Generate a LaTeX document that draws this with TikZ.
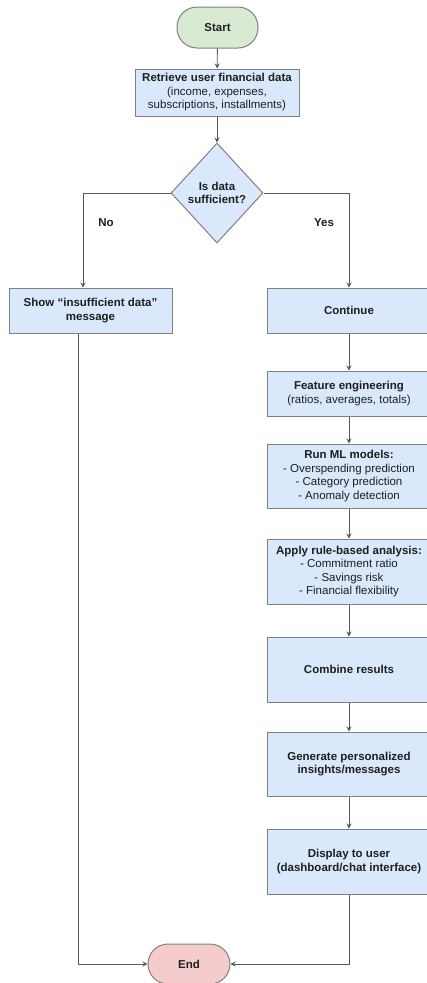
\documentclass[tikz,border=0pt]{standalone}
\usepackage{fontspec}
\setmainfont{Liberation Sans}
\usetikzlibrary{shapes.geometric,arrows.meta}
\definecolor{bluefill}{HTML}{DAE8FC}
\definecolor{greenfill}{HTML}{D9EAD3}
\definecolor{pinkfill}{HTML}{F4CCCC}
\definecolor{bordergray}{HTML}{808080}
\definecolor{linegray}{HTML}{595959}
\definecolor{txt}{HTML}{1F1F1F}
\tikzset{
  base/.style={draw=bordergray, line width=1pt, inner sep=0pt, align=center, text=txt,
    font=\fontsize{11.5}{13.5}\selectfont},
  procbox/.style={base, rectangle, fill=bluefill},
  termbox/.style={base, rectangle, rounded corners=20pt, minimum width=82pt, minimum height=40pt},
  decbox/.style={base, diamond, fill=bluefill, minimum width=92pt, minimum height=100pt, aspect=0.92},
  conn/.style={draw=linegray, line width=0.9pt, -{Stealth[length=5pt,width=5pt]}},
  plainline/.style={draw=linegray, line width=0.9pt},
  lbl/.style={font=\fontsize{11.5}{13.5}\selectfont\bfseries, text=txt}
}
\begin{document}
\begin{tikzpicture}[x=1pt,y=-1pt]
\clip (0,0) rectangle (427,983);
\fill[white] (0,0) rectangle (427,983);

\node[termbox, fill=greenfill, minimum width=81pt, minimum height=41pt] (start) at (217.5,27.5) {\bfseries Start};
\node[procbox, minimum width=164pt, minimum height=47pt] (retr) at (217,92.5)
  {\bfseries Retrieve user financial data\\(income, expenses,\\subscriptions, installments)};
\node[decbox] (dec) at (217,193) {\bfseries Is data\\\bfseries sufficient?};
\node[procbox, minimum width=163pt, minimum height=45pt] (show) at (90.5,310.5)
  {\bfseries Show “insufficient data”\\\bfseries message};
\node[procbox, minimum width=164pt, minimum height=45pt] (cont) at (349,310.5) {\bfseries Continue};
\node[procbox, minimum width=164pt, minimum height=45pt] (feat) at (349,393.5)
  {\bfseries Feature engineering\\(ratios, averages, totals)};
\node[procbox, minimum width=164pt, minimum height=64pt] (ml) at (349,476)
  {\bfseries Run ML models:\\- Overspending prediction\\- Category prediction\\- Anomaly detection};
\node[procbox, minimum width=164pt, minimum height=65pt] (rule) at (349,571.5)
  {\bfseries Apply rule-based analysis:\\- Commitment ratio\\- Savings risk\\- Financial flexibility};
\node[procbox, minimum width=164pt, minimum height=65pt] (comb) at (349,669.5) {\bfseries Combine results};
\node[procbox, minimum width=164pt, minimum height=64pt] (gen) at (349,764)
  {\bfseries Generate personalized\\\bfseries insights/messages};
\node[procbox, minimum width=164pt, minimum height=65pt] (disp) at (349,861.5)
  {\bfseries Display to user\\\bfseries (dashboard/chat interface)};
\node[termbox, fill=pinkfill] (end) at (189,964) {\bfseries End};

\node[lbl] (no) at (106,223) {No};
\node[lbl] (yes) at (324,223) {Yes};

\draw[conn] (start) -- (retr);
\draw[conn] (retr) -- (dec);
\draw[conn] (dec.west) -| ([xshift=-7.5pt]show.north);
\draw[conn] (dec.east) -| (cont.north);
\draw[conn] (cont) -- (feat);
\draw[conn] (feat) -- (ml);
\draw[conn] (ml) -- (rule);
\draw[conn] (rule) -- (comb);
\draw[conn] (comb) -- (gen);
\draw[conn] (gen) -- (disp);
\draw[conn] ([xshift=-12.5pt]show.south) |- (end.west);
\draw[conn] (disp.south) |- (end.east);
\end{tikzpicture}
\end{document}
